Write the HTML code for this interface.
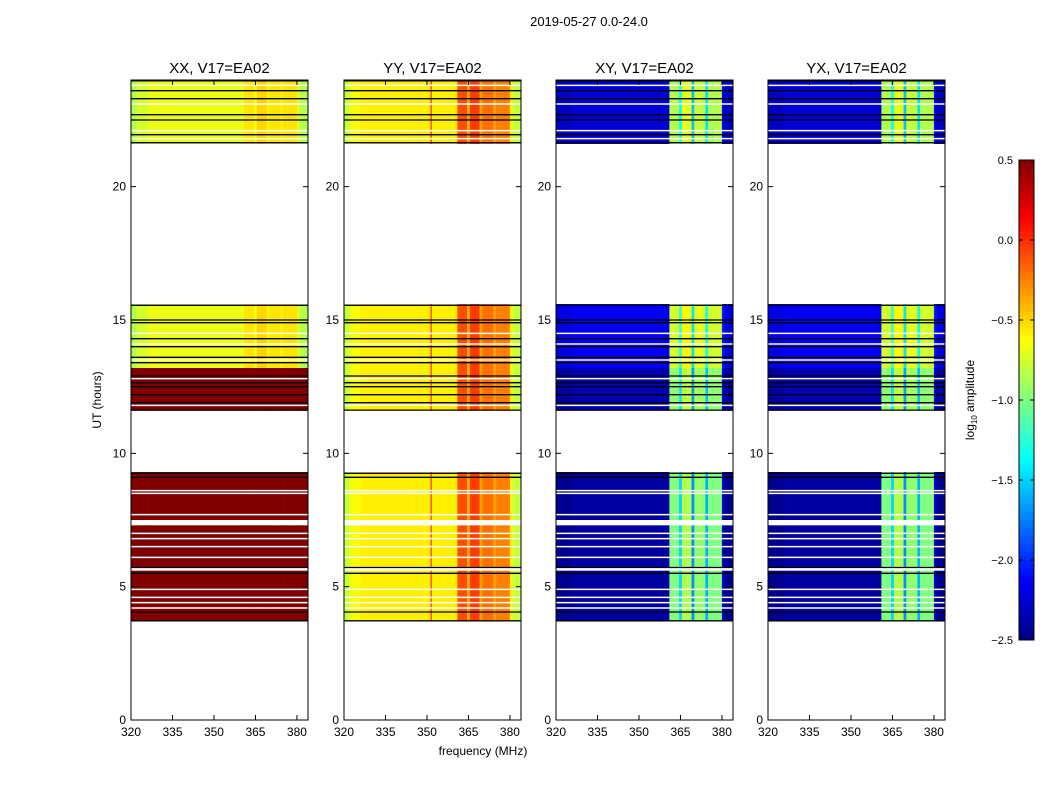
<!DOCTYPE html>
<html><head><meta charset="utf-8"><style>
body{margin:0;background:#fff;}
svg text{font-family:"Liberation Sans","DejaVu Sans",sans-serif;fill:#000;}
</style></head><body>
<svg id="fig" width="1050" height="800" xmlns="http://www.w3.org/2000/svg">
<rect width="1050" height="800" fill="#fff"/>
<text x="589" y="26" font-size="13" text-anchor="middle">2019-05-27 0.0-24.0</text>
<text x="483" y="755" font-size="12" text-anchor="middle">frequency (MHz)</text>
<text transform="translate(101,400) rotate(-90)" font-size="12" text-anchor="middle">UT (hours)</text>
<g id="panels"></g>
<g id="cbar"></g>
</svg>
<script>
// ---- data ----
const panelTitles = ["XX, V17=EA02","YY, V17=EA02","XY, V17=EA02","YX, V17=EA02"];
const freqEdges = [320,322,326,361,364.5,365.5,369,370,374,375,380,381,384];
const profileXX = [-0.85,-0.75,-0.68,-0.55,-0.65,-0.5,-0.6,-0.55,-0.6,-0.55,-0.7,-0.85];
const profileYY = [-0.8,-0.65,-0.58,-0.1,-0.4,-0.05,-0.35,-0.2,-0.35,-0.25,-0.6,-0.8];
const profileXY = [-2.45,-2.45,-2.4,-1.0,-1.5,-0.85,-1.7,-0.95,-1.6,-1.0,-2.3,-2.45];
const profileYX = [-2.45,-2.45,-2.4,-1.0,-1.5,-0.85,-1.7,-0.95,-1.6,-1.0,-2.3,-2.45];
const blockStart = [3.7,5.7,7.5,11.6,13.2,21.6];
const blockEnd   = [5.6,7.3,9.3,13.2,15.6,24.0];
const offsetXX = [2,2,2,2,0,0];
const offsetYY = [0,0,0,0,0,0];
const offsetXY = [0,0,0,0.05,0.25,0.15];
const offsetYX = [0,0,0,0.05,0.25,0.15];
const blackLines = [3.72,4.05,5.5,5.72,9.1,9.25,11.62,11.9,12.2,12.5,12.65,12.9,13.4,13.6,14.0,14.3,14.9,15.0,15.55,21.65,21.95,22.5,22.7,23.3,23.6,23.97];
const whiteLines = [4.2,4.4,4.6,4.9,6.1,6.5,6.8,7.0,7.7,8.5,8.6,11.8,12.8,13.5,14.1,14.5,21.8,22.1,23.1,23.8];
const yTicks = [0,5,10,15,20];
const xTicks = [320,335,350,365,380];
const cbTicks = [0.5,0.0,-0.5,-1.0,-1.5,-2.0,-2.5];
// ---- layout ----
const NS="http://www.w3.org/2000/svg";
const panelX=[131,344,556,768], PW=177, PT=80, PB=720;
const yOf=h=>PB-h*(PB-PT)/24;
const xOf=(i,f)=>panelX[i]+(f-320)*(PW/64);
function jet(v){let t=(v+2.5)/3;t=Math.max(0,Math.min(1,t));
 const c=x=>Math.round(255*Math.max(0,Math.min(1,1.5-Math.abs(4*t-x))));
 return `rgb(${c(3)},${c(2)},${c(1)})`;}
function mk(tag,attrs,parent){const e=document.createElementNS(NS,tag);for(const k in attrs)e.setAttribute(k,attrs[k]);parent.appendChild(e);return e;}
const profiles=[profileXX,profileYY,profileXY,profileYX];
const offsets=[offsetXX,offsetYY,offsetXY,offsetYX];
const G=document.getElementById('panels');
for(let p=0;p<4;p++){
 const g=mk('g',{},G);
 
 
 for(let b=0;b<blockStart.length;b++){
  for(let k=0;k<freqEdges.length-1;k++){
   const r=mk('rect',{x:xOf(p,freqEdges[k]),y:yOf(blockEnd[b]),width:xOf(p,freqEdges[k+1])-xOf(p,freqEdges[k])+0.3,height:yOf(blockStart[b])-yOf(blockEnd[b]),fill:jet(profiles[p][k]+offsets[p][b])},g);
   
   
  }
 }
 if(p===1){for(let b=0;b<blockStart.length;b++){
  const l=mk('line',{x1:xOf(p,351.5),x2:xOf(p,351.5),y1:yOf(blockEnd[b]),y2:yOf(blockStart[b]),stroke:'#f00','stroke-width':1},g);
  
  }}
 whiteLines.forEach(h=>{const l=mk('line',{x1:panelX[p],x2:panelX[p]+PW,y1:yOf(h),y2:yOf(h),stroke:'#fff','stroke-width':1.5},g);
  
  });
 blackLines.forEach(h=>{const l=mk('line',{x1:panelX[p],x2:panelX[p]+PW,y1:yOf(h),y2:yOf(h),stroke:'#000','stroke-width':1.3},g);
  
  });
 const fr=mk('rect',{x:panelX[p],y:PT,width:PW,height:PB-PT,fill:'none',stroke:'#000','stroke-width':1},g);
 
 
 const t=mk('text',{x:panelX[p]+PW/2,y:73,'font-size':15,'text-anchor':'middle'},g);t.textContent=panelTitles[p];
 
 
 yTicks.forEach(v=>{const y=yOf(v);
  mk('line',{x1:panelX[p],x2:panelX[p]+5,y1:y,y2:y,stroke:'#000'},g);
  mk('line',{x1:panelX[p]+PW-5,x2:panelX[p]+PW,y1:y,y2:y,stroke:'#000'},g);
  const tx=mk('text',{x:panelX[p]-5,y:y+4,'font-size':12,'text-anchor':'end'},g);tx.textContent=v;
  
  });
 xTicks.forEach(v=>{const x=xOf(p,v);
  mk('line',{x1:x,x2:x,y1:PB,y2:PB-5,stroke:'#000'},g);
  mk('line',{x1:x,x2:x,y1:PT,y2:PT+5,stroke:'#000'},g);
  const tx=mk('text',{x:x,y:736,'font-size':12,'text-anchor':'middle'},g);tx.textContent=v;
  
  });
}
// colorbar
const C=document.getElementById('cbar');
const cx=1019,cw=15,ct=160,cb=640;
const cyOf=v=>ct+(0.5-v)*(cb-ct)/3;
for(let i=0;i<120;i++){const v0=0.5-i*3/120;
 mk('rect',{x:cx,y:cyOf(v0),width:cw,height:(cb-ct)/120+0.5,fill:jet(v0-0.0125)},C);}
mk('rect',{x:cx,y:ct,width:cw,height:cb-ct,fill:'none',stroke:'#000'},C);
cbTicks.forEach(v=>{const y=cyOf(v);
 mk('line',{x1:cx,x2:cx+4,y1:y,y2:y,stroke:'#000'},C);
 mk('line',{x1:cx+cw-4,x2:cx+cw,y1:y,y2:y,stroke:'#000'},C);
 const tx=mk('text',{x:1013,y:y+4,'font-size':11,'text-anchor':'end'},C);
 tx.textContent=(v<0?'\u2212':'')+Math.abs(v).toFixed(1);
 
 });
const lab=mk('text',{transform:'translate(974,400) rotate(-90)','font-size':12,'text-anchor':'middle'},C);
lab.innerHTML='log<tspan font-size="8" dy="3">10</tspan><tspan dy="-3"> amplitude</tspan>';


</script>
</body></html>
